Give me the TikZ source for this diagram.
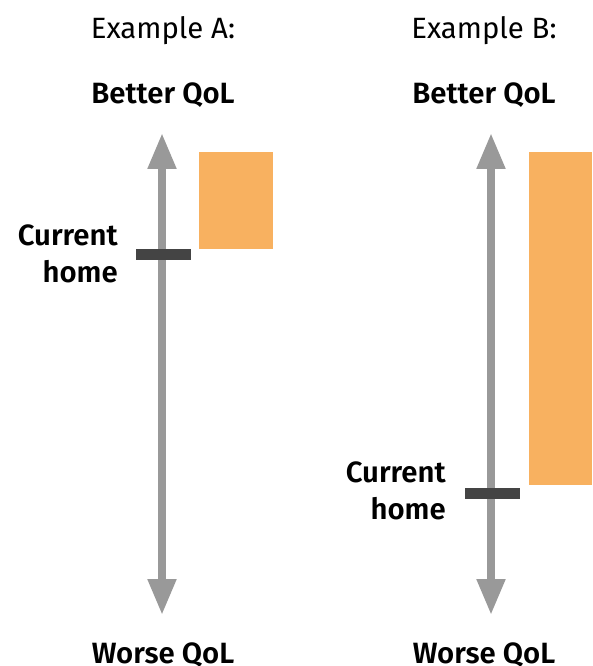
\documentclass[tikz,border=0pt]{standalone}
\usepackage{fontspec}
\setmainfont{Fira Sans}[BoldFont={Fira Sans SemiBold}]
\usetikzlibrary{positioning,arrows.meta}
\definecolor{scale}{RGB}{153,153,153}
\definecolor{marker}{RGB}{68,68,68}
\definecolor{range}{RGB}{248,177,96}

\begin{document}
\begin{tikzpicture}[x=0.75pt, y=-0.75pt,
    % Text styles
    heading/.style={anchor=base, font=\fontsize{22}{26}\selectfont, inner sep=0pt},
    endlabel/.style={anchor=base, font=\fontsize{22}{26}\selectfont\bfseries, inner sep=0pt},
    homelabel/.style={anchor=base east, align=right, font=\fontsize{22}{27.75}\selectfont\bfseries, inner sep=0pt},
    % Shape styles
    qolaxis/.style={{Triangle[length=27pt,width=20.25pt]}-{Triangle[length=27pt,width=20.25pt]}, line width=6pt, color=scale},
    tick/.style={rectangle, fill=marker, inner sep=0pt, minimum width=41.25pt, minimum height=8.25pt},
    bar/.style={fill=range, draw=none}
]
\useasboundingbox (0,0) rectangle (592,666);

% Example A
\node[heading] (title_a) at (163,39) {Example A:};
\node[endlabel] (better_a) at (163,104) {Better QoL};
\node[endlabel] (worse_a) at (163,663) {Worse QoL};
\coordinate (top_a) at (162,133);
\coordinate (bottom_a) at (162,615);
\draw[qolaxis] (bottom_a) -- (top_a);
\fill[bar] (199,152) rectangle (273,249);
\node[tick] (home_a) at (163.5,254.5) {};
\node[homelabel] (label_a) at (118,282) {Current\\home};

% Example B
\node[heading] (title_b) at (484,39) {Example B:};
\node[endlabel] (better_b) at (484,104) {Better QoL};
\node[endlabel] (worse_b) at (484,663) {Worse QoL};
\coordinate (top_b) at (491,133);
\coordinate (bottom_b) at (491,615);
\draw[qolaxis] (bottom_b) -- (top_b);
\fill[bar] (529,152) rectangle (592,485);
\node[tick] (home_b) at (492.5,493.5) {};
\node[homelabel] (label_b) at (446,519) {Current\\home};

\end{tikzpicture}
\end{document}
